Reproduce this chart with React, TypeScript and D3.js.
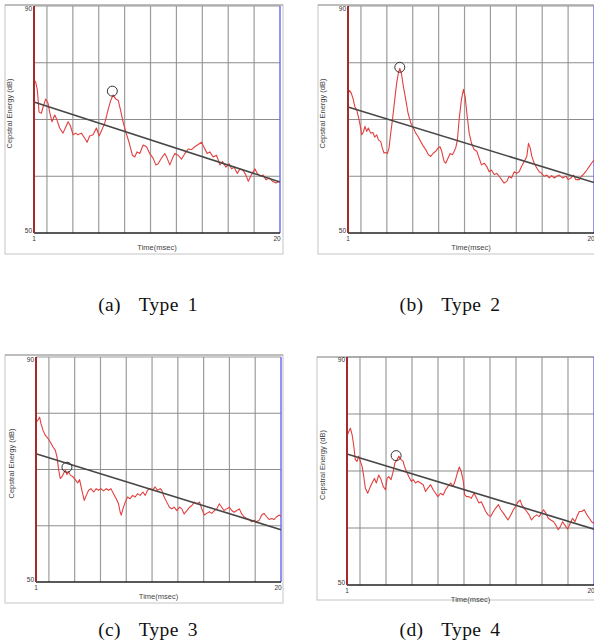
import React from "react";
import * as d3 from "d3";

// ---- data: [time (msec), cepstral energy (dB)] ----
const type1Curve: [number, number][] = [
  [1.0, 77.0], [1.13, 76.6], [1.26, 75.2], [1.39, 71.3], [1.57, 71.1], [1.7, 72.2], [1.9, 73.6], [2.08, 72.9],
  [2.21, 71.3], [2.39, 69.6], [2.6, 70.8], [2.78, 69.9], [2.98, 68.5], [3.24, 67.6], [3.42, 68.5], [3.63, 69.6],
  [3.81, 68.9], [4.02, 67.3], [4.22, 67.6], [4.4, 67.3], [4.66, 67.6], [4.92, 66.7], [5.1, 66.0], [5.3, 67.1],
  [5.56, 67.3], [5.82, 68.5], [6.03, 67.1], [6.21, 68.0], [6.47, 69.4], [6.72, 71.7], [6.93, 73.4], [7.11, 74.3],
  [7.32, 73.6], [7.5, 73.4], [7.68, 71.7], [7.88, 69.6], [8.09, 67.8], [8.35, 65.9], [8.6, 63.7], [8.78, 63.4],
  [8.96, 64.3], [9.17, 64.0], [9.43, 65.5], [9.69, 65.2], [9.94, 64.0], [10.2, 63.2], [10.41, 62.0], [10.59, 62.2],
  [10.85, 63.2], [11.1, 64.0], [11.28, 63.2], [11.49, 62.0], [11.7, 63.2], [11.88, 64.0], [12.13, 63.7], [12.39, 63.0],
  [12.65, 64.0], [12.91, 64.8], [13.17, 64.7], [13.42, 65.2], [13.68, 65.6], [13.94, 66.0], [14.15, 65.0], [14.38, 64.0],
  [14.58, 64.3], [14.84, 63.4], [15.1, 63.7], [15.36, 62.0], [15.56, 62.6], [15.82, 61.6], [16.08, 62.2], [16.26, 61.3],
  [16.46, 61.6], [16.7, 60.5], [16.9, 61.3], [17.16, 61.0], [17.37, 60.2], [17.55, 59.1], [17.73, 60.0], [18.06, 61.3],
  [18.24, 60.5], [18.5, 60.0], [18.71, 60.2], [18.91, 59.4], [19.17, 59.7], [19.43, 59.1], [19.69, 58.8], [19.95, 59.1],
];
const type1Fit: [number, number][] = [[1, 73.1], [20, 59.0]];
const type1Peak: [number, number] = [7.05, 75.0];

const type2Curve: [number, number][] = [
  [1.0, 74.6], [1.13, 75.1], [1.26, 74.6], [1.41, 73.5], [1.52, 72.3], [1.67, 71.7], [1.8, 70.5], [1.93, 69.1],
  [2.06, 67.3], [2.19, 67.8], [2.31, 68.8], [2.44, 67.9], [2.57, 68.5], [2.75, 67.6], [2.93, 67.7], [3.06, 66.9],
  [3.22, 67.3], [3.35, 66.4], [3.53, 66.1], [3.65, 65.0], [3.78, 64.1], [3.91, 64.2], [4.04, 64.0], [4.17, 65.0],
  [4.3, 67.6], [4.43, 69.9], [4.61, 73.5], [4.76, 76.4], [4.89, 78.2], [5.0, 79.0], [5.12, 78.2], [5.28, 75.8],
  [5.46, 73.5], [5.64, 71.1], [5.85, 69.4], [6.05, 68.5], [6.23, 67.6], [6.41, 67.0], [6.62, 66.1], [6.82, 65.3],
  [7.0, 64.7], [7.21, 63.8], [7.39, 63.5], [7.6, 64.1], [7.78, 64.4], [7.96, 65.0], [8.11, 65.2], [8.24, 64.4],
  [8.42, 62.6], [8.55, 62.3], [8.73, 63.2], [8.89, 64.0], [9.07, 63.8], [9.2, 64.4], [9.32, 65.0], [9.45, 66.4],
  [9.58, 69.9], [9.76, 73.5], [9.92, 75.3], [10.05, 74.0], [10.18, 71.1], [10.36, 67.6], [10.54, 65.8], [10.74, 64.7],
  [10.95, 64.4], [11.13, 63.2], [11.31, 62.0], [11.52, 62.3], [11.72, 61.7], [11.9, 60.8], [12.08, 61.1], [12.29, 60.3],
  [12.49, 60.5], [12.68, 60.0], [12.86, 59.4], [13.06, 58.8], [13.27, 59.1], [13.45, 60.0], [13.63, 59.7], [13.84, 60.8],
  [14.02, 60.5], [14.22, 60.8], [14.4, 61.7], [14.61, 62.6], [14.81, 63.5], [14.94, 65.8], [15.07, 65.0], [15.2, 63.5],
  [15.38, 62.3], [15.59, 61.4], [15.77, 60.8], [15.95, 60.5], [16.15, 60.0], [16.36, 60.2], [16.54, 59.7], [16.72, 60.1],
  [16.93, 59.7], [17.13, 60.0], [17.31, 60.2], [17.57, 59.7], [17.83, 60.0], [18.01, 59.4], [18.22, 59.7], [18.42, 60.2],
  [18.6, 59.4], [18.86, 59.4], [19.04, 60.0], [19.25, 60.5], [19.45, 61.1], [19.63, 61.7], [19.81, 62.3], [20.0, 62.9],
];
const type2Fit: [number, number][] = [[1, 72.2], [20, 58.9]];
const type2Peak: [number, number] = [5.0, 79.2];

const type3Curve: [number, number][] = [
  [1.0, 78.4], [1.13, 78.7], [1.28, 79.3], [1.39, 78.1], [1.54, 77.0], [1.72, 76.1], [1.93, 75.5], [2.11, 74.9],
  [2.32, 74.0], [2.5, 73.4], [2.63, 72.2], [2.76, 69.9], [2.88, 68.4], [3.01, 68.7], [3.14, 69.3], [3.27, 69.9],
  [3.4, 69.1], [3.53, 69.6], [3.66, 69.0], [3.87, 68.7], [4.05, 68.2], [4.23, 67.6], [4.38, 68.2], [4.56, 66.3],
  [4.74, 64.5], [4.9, 65.4], [5.08, 66.3], [5.26, 66.6], [5.47, 66.0], [5.67, 66.6], [5.85, 66.3], [6.03, 66.6],
  [6.24, 66.2], [6.45, 66.6], [6.63, 66.3], [6.81, 66.6], [7.01, 65.7], [7.22, 64.8], [7.4, 63.9], [7.53, 62.4],
  [7.61, 61.9], [7.74, 63.0], [7.92, 64.2], [8.1, 65.1], [8.3, 64.8], [8.49, 65.4], [8.69, 65.1], [8.87, 65.7],
  [9.08, 65.4], [9.29, 66.0], [9.47, 65.4], [9.65, 66.3], [9.85, 66.6], [10.03, 66.3], [10.24, 66.9], [10.42, 66.3],
  [10.63, 66.6], [10.76, 66.3], [10.94, 65.1], [11.14, 64.2], [11.35, 63.3], [11.53, 63.0], [11.71, 63.3], [11.92, 62.7],
  [12.13, 63.3], [12.31, 63.0], [12.49, 62.1], [12.7, 62.7], [12.91, 63.3], [13.09, 63.6], [13.27, 64.2], [13.47, 63.9],
  [13.68, 64.2], [13.86, 63.0], [14.04, 61.9], [14.24, 62.2], [14.45, 62.5], [14.63, 62.2], [14.84, 62.7], [15.02, 63.0],
  [15.22, 63.9], [15.4, 63.3], [15.58, 62.7], [15.79, 63.0], [16.0, 63.3], [16.18, 62.7], [16.36, 62.4], [16.57, 62.7],
  [16.77, 63.0], [16.95, 62.1], [17.13, 61.6], [17.34, 61.3], [17.55, 61.1], [17.73, 60.7], [17.91, 61.0], [18.11, 60.7],
  [18.32, 61.0], [18.5, 61.9], [18.68, 62.2], [18.89, 61.6], [19.09, 61.1], [19.28, 61.3], [19.46, 61.1], [19.66, 61.6],
  [19.87, 61.9], [20.0, 61.7],
];
const type3Fit: [number, number][] = [[1, 72.8], [20, 59.3]];
const type3Peak: [number, number] = [3.4, 70.4];

const type4Curve: [number, number][] = [
  [1.0, 76.1], [1.13, 76.9], [1.26, 77.5], [1.39, 76.4], [1.51, 74.6], [1.64, 72.0], [1.77, 71.7], [1.9, 72.6],
  [2.03, 71.7], [2.16, 70.8], [2.29, 69.0], [2.41, 67.0], [2.59, 66.1], [2.75, 67.0], [2.93, 67.9], [3.11, 68.7],
  [3.26, 67.9], [3.44, 69.3], [3.62, 68.5], [3.78, 67.3], [3.96, 66.7], [4.08, 68.7], [4.21, 69.0], [4.39, 68.5],
  [4.55, 69.9], [4.68, 71.4], [4.86, 72.0], [4.98, 72.6], [5.16, 72.0], [5.32, 71.7], [5.42, 70.8], [5.58, 69.9],
  [5.76, 69.0], [5.94, 68.2], [6.09, 68.5], [6.27, 67.9], [6.45, 68.2], [6.66, 67.9], [6.86, 67.6], [7.04, 66.4],
  [7.22, 67.0], [7.43, 67.6], [7.63, 66.7], [7.81, 66.1], [7.99, 65.5], [8.2, 66.1], [8.4, 65.8], [8.58, 66.7],
  [8.76, 67.3], [8.97, 67.9], [9.17, 67.3], [9.35, 68.5], [9.48, 69.6], [9.64, 70.7], [9.79, 69.9], [9.95, 68.2],
  [10.05, 65.8], [10.2, 65.5], [10.38, 65.5], [10.56, 65.2], [10.77, 66.1], [10.97, 65.2], [11.15, 64.4], [11.33, 64.6],
  [11.49, 63.8], [11.67, 62.9], [11.85, 62.3], [12.05, 62.0], [12.26, 62.9], [12.44, 63.5], [12.65, 64.1], [12.83, 63.2],
  [13.03, 62.6], [13.21, 62.0], [13.39, 61.4], [13.6, 62.3], [13.8, 63.2], [13.98, 63.8], [14.16, 64.6], [14.32, 64.9],
  [14.44, 64.1], [14.62, 63.5], [14.83, 62.9], [15.01, 62.3], [15.19, 61.4], [15.4, 62.0], [15.6, 62.3], [15.78, 62.0],
  [15.96, 62.6], [16.12, 63.2], [16.3, 62.6], [16.48, 61.7], [16.68, 61.4], [16.89, 61.1], [17.07, 60.5], [17.25, 59.7],
  [17.4, 60.2], [17.58, 61.1], [17.76, 60.5], [17.97, 59.8], [18.17, 60.8], [18.35, 61.7], [18.53, 61.1], [18.69, 62.0],
  [18.87, 62.9], [19.05, 62.9], [19.25, 63.2], [19.46, 62.3], [19.64, 61.7], [19.82, 61.1], [20.0, 60.8],
];
const type4Fit: [number, number][] = [[1, 73.0], [20, 59.8]];
const type4Peak: [number, number] = [4.78, 72.7];

const xDomain: [number, number] = [1, 20];
const yDomain: [number, number] = [50, 90];
const xGridValues = [2, 4, 6, 8, 10, 12, 14, 16, 18];
const yGridValues = [60, 70, 80];
const xTickLabels = ["1", "20"];
const yTickLabels = ["50", "90"];
const captions = ["(a)  Type 1", "(b)  Type 2", "(c)  Type 3", "(d)  Type 4"];
const xAxisTitle = "Time(msec)";
const yAxisTitle = "Cepstral Energy (dB)";

type Box = { x0: number; y0: number; x1: number; y1: number };

interface PanelProps {
  curve: [number, number][];
  fit: [number, number][];
  peak: [number, number];
  frame: Box;
  plot: Box;
  yTitleX: number;
  caption: string;
  captionX: number;
  captionY: number;
}

function Panel({ curve, fit, peak, frame, plot, yTitleX, caption, captionX, captionY }: PanelProps) {
  const x = d3.scaleLinear().domain(xDomain).range([plot.x0, plot.x1]);
  const y = d3.scaleLinear().domain(yDomain).range([plot.y1, plot.y0]);
  const line = d3
    .line<[number, number]>()
    .x((d) => x(d[0]))
    .y((d) => y(d[1]));
  const sans = "Arial, 'Liberation Sans', sans-serif";
  const midY = (plot.y0 + plot.y1) / 2;
  return (
    <g>
      <rect
        x={frame.x0}
        y={frame.y0}
        width={frame.x1 - frame.x0}
        height={frame.y1 - frame.y0}
        fill="#fff"
        stroke="#c4c4c4"
        strokeWidth={1}
      />
      <line x1={frame.x0} x2={frame.x1} y1={frame.y0} y2={frame.y0} stroke="#9a9a9a" strokeWidth={1} />
      {/* grid */}
      {xGridValues.map((v) => (
        <line key={"gx" + v} x1={x(v)} x2={x(v)} y1={plot.y0} y2={plot.y1} stroke="#9c9c9c" strokeWidth={1.2} />
      ))}
      {yGridValues.map((v) => (
        <line key={"gy" + v} x1={plot.x0} x2={plot.x1} y1={y(v)} y2={y(v)} stroke="#8c8c8c" strokeWidth={1.2} />
      ))}
      <line x1={plot.x0} x2={plot.x1} y1={y(90)} y2={y(90)} stroke="#9a9a9a" strokeWidth={1} />
      {/* right border */}
      <line x1={x(20)} x2={x(20)} y1={plot.y0} y2={plot.y1} stroke="#6f6ff0" strokeWidth={1.5} />
      {/* curve */}
      <path d={line(curve) || ""} fill="none" stroke="#e2403f" strokeWidth={1.1} strokeLinejoin="round" />
      {/* regression */}
      <path d={line(fit) || ""} fill="none" stroke="#474747" strokeWidth={1.6} />
      {/* peak marker */}
      <circle cx={x(peak[0])} cy={y(peak[1])} r={5} fill="none" stroke="#333" strokeWidth={1} />
      {/* axes */}
      <line x1={plot.x0} x2={plot.x1} y1={plot.y1} y2={plot.y1} stroke="#222" strokeWidth={1.5} />
      <line x1={plot.x0} x2={plot.x0} y1={plot.y0} y2={plot.y1} stroke="#a52a2a" strokeWidth={2} />
      {/* tick labels */}
      <text x={plot.x0 - 2} y={y(90) + 5} fontSize={6.5} fontFamily={sans} fill="#333" textAnchor="end">
        {yTickLabels[1]}
      </text>
      <text x={plot.x0 - 2} y={y(50)} fontSize={6.5} fontFamily={sans} fill="#333" textAnchor="end">
        {yTickLabels[0]}
      </text>
      <text x={x(1)} y={plot.y1 + 8} fontSize={6.5} fontFamily={sans} fill="#333" textAnchor="middle">
        {xTickLabels[0]}
      </text>
      <text x={x(20) - 3} y={plot.y1 + 8} fontSize={6.5} fontFamily={sans} fill="#333" textAnchor="middle">
        {xTickLabels[1]}
      </text>
      <text
        x={(plot.x0 + plot.x1) / 2}
        y={plot.y1 + 17}
        fontSize={7.5}
        fontFamily={sans}
        fill="#444"
        textAnchor="middle"
      >
        {xAxisTitle}
      </text>
      <text
        transform={`translate(${yTitleX},${midY - 6}) rotate(-90)`}
        fontSize={7.5}
        fontFamily={sans}
        fill="#444"
        textAnchor="middle"
      >
        {yAxisTitle}
      </text>
      <text
        x={captionX}
        y={captionY}
        fontSize={19.5}
        fontFamily="'Liberation Serif', 'Times New Roman', serif"
        fill="#111"
        textAnchor="middle"
        style={{ whiteSpace: "pre", wordSpacing: "4px", letterSpacing: "0.3px" }}
        xmlSpace="preserve"
      >
        {caption}
      </text>
    </g>
  );
}

export default function App() {
  return (
    <svg
      width={594}
      height={643}
      style={{ position: "absolute", left: 0, top: 0, background: "#fff" }}
      xmlns="http://www.w3.org/2000/svg"
    >
      <Panel
        curve={type1Curve}
        fit={type1Fit}
        peak={type1Peak}
        frame={{ x0: 5, y0: 5, x1: 283, y1: 254 }}
        plot={{ x0: 34, y0: 6, x1: 280, y1: 233 }}
        yTitleX={12}
        caption={captions[0]}
        captionX={148}
        captionY={311}
      />
      <Panel
        curve={type2Curve}
        fit={type2Fit}
        peak={type2Peak}
        frame={{ x0: 318, y0: 5, x1: 600, y1: 254 }}
        plot={{ x0: 348, y0: 6, x1: 594, y1: 233 }}
        yTitleX={325}
        caption={captions[1]}
        captionX={450}
        captionY={311}
      />
      <Panel
        curve={type3Curve}
        fit={type3Fit}
        peak={type3Peak}
        frame={{ x0: 5, y0: 355, x1: 283, y1: 603 }}
        plot={{ x0: 36, y0: 357, x1: 281, y1: 582 }}
        yTitleX={14}
        caption={captions[2]}
        captionX={148}
        captionY={636}
      />
      <Panel
        curve={type4Curve}
        fit={type4Fit}
        peak={type4Peak}
        frame={{ x0: 317, y0: 357, x1: 600, y1: 600 }}
        plot={{ x0: 347, y0: 357, x1: 594, y1: 585 }}
        yTitleX={325}
        caption={captions[3]}
        captionX={450}
        captionY={636}
      />
    </svg>
  );
}
